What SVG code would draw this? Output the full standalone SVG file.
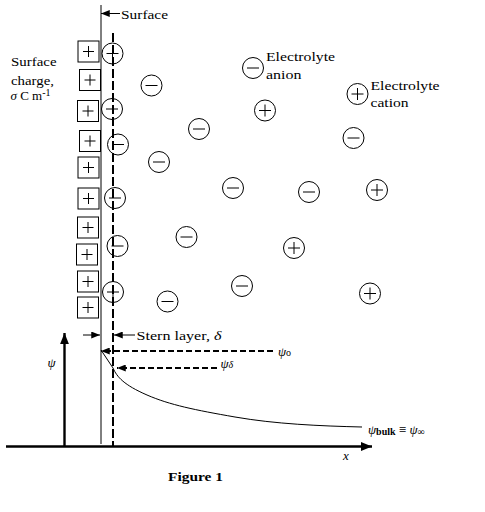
<svg xmlns="http://www.w3.org/2000/svg" xmlns:xlink="http://www.w3.org/1999/xlink" width="485" height="512" viewBox="0 0 485 512">
<style>
text{font-family:"Liberation Serif","DejaVu Serif","Times New Roman",serif;font-size:13px;fill:#000}
.it{font-style:italic}
.thin{stroke:#000;stroke-width:1;fill:none}
.dash{stroke:#000;stroke-width:2;fill:none;stroke-dasharray:6 3}
.vdash{stroke:#000;stroke-width:2;fill:none;stroke-dasharray:9 3}
.axis{stroke:#000;stroke-width:2.4;fill:none}
</style>
<defs>
<marker id="ah" viewBox="0 0 10 8" refX="10" refY="4" markerWidth="9" markerHeight="7" markerUnits="userSpaceOnUse" orient="auto">
<path d="M0,0 L10,4 L0,8 z" fill="#000"/>
</marker>
<marker id="ahAxis" viewBox="0 0 10 8" refX="10" refY="4" markerWidth="11" markerHeight="9" markerUnits="userSpaceOnUse" orient="auto">
<path d="M0,0 L10,4 L0,8 z" fill="#000"/>
</marker>
<g id="neg" fill="none" stroke="#000" stroke-width="1"><circle cx="0" cy="0" r="10.5"/><path d="M-6,0 H6"/></g>
<g id="pos" fill="none" stroke="#000" stroke-width="1"><circle cx="0" cy="0" r="10.5"/><path d="M-6,0 H6 M0,-6 V6"/></g>
<g id="sq" fill="none" stroke="#000" stroke-width="1"><rect x="-10.5" y="-10.5" width="21" height="21"/><path d="M-5.5,0 H5.5 M0,-5.5 V5.5"/></g>
</defs>
<rect width="485" height="512" fill="#fff"/>

<g id="surface-line"><path class="thin" d="M101,5 V444"/></g>
<g id="stern-plane"><path class="vdash" d="M113,33 V447"/></g>

<g id="surface-charges">
<use xlink:href="#sq" x="88.5" y="51.5"/>
<use xlink:href="#sq" x="90" y="80"/>
<use xlink:href="#sq" x="88" y="111"/>
<use xlink:href="#sq" x="90" y="141"/>
<use xlink:href="#sq" x="88.5" y="167.5"/>
<use xlink:href="#sq" x="88.5" y="198.5"/>
<use xlink:href="#sq" x="88" y="227.5"/>
<use xlink:href="#sq" x="87" y="254.5"/>
<use xlink:href="#sq" x="88" y="281.5"/>
<use xlink:href="#sq" x="88" y="307.5"/>
</g>

<g id="stern-ions">
<use xlink:href="#pos" x="112.5" y="53.5"/>
<use xlink:href="#neg" x="112" y="109"/>
<use xlink:href="#neg" x="118" y="144.5"/>
<use xlink:href="#neg" x="115" y="198"/>
<use xlink:href="#neg" x="117.5" y="246"/>
<use xlink:href="#pos" x="113" y="292"/>
</g>

<g id="bulk-ions">
<use xlink:href="#neg" x="151.5" y="85.5"/>
<use xlink:href="#neg" x="253" y="68"/>
<use xlink:href="#pos" x="265" y="110.5"/>
<use xlink:href="#neg" x="199" y="129"/>
<use xlink:href="#pos" x="357.5" y="94"/>
<use xlink:href="#neg" x="353.5" y="138"/>
<use xlink:href="#neg" x="159" y="162"/>
<use xlink:href="#neg" x="233" y="188"/>
<use xlink:href="#neg" x="309" y="192"/>
<use xlink:href="#pos" x="377" y="190"/>
<use xlink:href="#neg" x="186.5" y="237"/>
<use xlink:href="#pos" x="294" y="248"/>
<use xlink:href="#neg" x="242" y="286"/>
<use xlink:href="#neg" x="167.5" y="301.5"/>
<use xlink:href="#pos" x="370" y="293.5"/>
</g>

<g id="connectors">
<path class="thin" d="M120,13.5 H101" marker-end="url(#ah)"/>
<path class="thin" d="M83,335 H100" marker-end="url(#ah)"/>
<path class="thin" d="M135,335 H114" marker-end="url(#ah)"/>
<path class="dash" d="M273,351 H101" marker-end="url(#ah)"/>
<path class="dash" d="M217,368 H117" marker-end="url(#ah)"/>
<path class="axis" d="M64.5,447 V333" marker-end="url(#ahAxis)"/>
<path class="axis" d="M6,446.5 H372" marker-end="url(#ahAxis)"/>
<path class="thin" d="M101,350 L113,368 C117,377 124,385 147,395 S195,410 235,417 S320,426 362,427"/>
</g>

<g id="labels" font-family="'Liberation Serif','DejaVu Serif',serif">
<text x="121" y="18.5" textLength="47" lengthAdjust="spacingAndGlyphs">Surface</text>
<text x="11" y="65.5" textLength="45.5" lengthAdjust="spacingAndGlyphs">Surface</text>
<text x="11" y="84.5" textLength="43" lengthAdjust="spacingAndGlyphs">charge,</text>
<text x="10.5" y="100" font-size="14"><tspan class="it">σ</tspan> C m<tspan font-size="10" dy="-4.5">-1</tspan></text>
<text x="266" y="61" textLength="69" lengthAdjust="spacingAndGlyphs">Electrolyte</text>
<text x="266" y="79" textLength="35.5" lengthAdjust="spacingAndGlyphs">anion</text>
<text x="370.5" y="90" textLength="69" lengthAdjust="spacingAndGlyphs">Electrolyte</text>
<text x="370.5" y="107" textLength="38" lengthAdjust="spacingAndGlyphs">cation</text>
<text x="136.5" y="339.5" textLength="85" lengthAdjust="spacingAndGlyphs">Stern layer, <tspan class="it">δ</tspan></text>
<text x="278" y="356" class="it" font-size="14">ψ<tspan font-size="10" font-style="normal">o</tspan></text>
<text x="220.5" y="368" class="it" font-size="14">ψ<tspan font-size="10">δ</tspan></text>
<text x="47.5" y="366.5" class="it" font-size="14">ψ</text>
<text x="343" y="460" class="it" font-size="14">x</text>
<text x="368" y="434" font-size="14"><tspan class="it">ψ</tspan><tspan font-size="10" font-weight="bold" dy="1">bulk</tspan><tspan dy="-1"> ≡ </tspan><tspan class="it">ψ</tspan><tspan font-size="10" dy="1">∞</tspan></text>
<text x="168" y="481" font-weight="bold" textLength="55" lengthAdjust="spacingAndGlyphs">Figure 1</text>
</g>
</svg>
